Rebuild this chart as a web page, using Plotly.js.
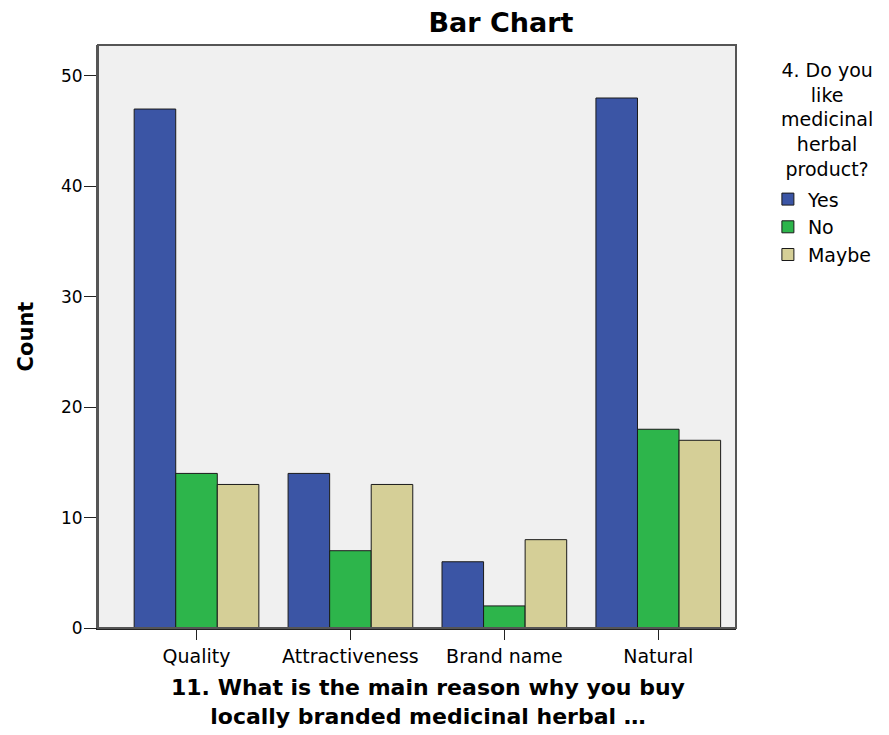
<!DOCTYPE html>
<html><head><meta charset="utf-8">
<script src="https://cdn.plot.ly/plotly-3.0.1.min.js"></script>
<style>body{margin:0;background:#fff}#chart{width:889px;height:735px}</style>
</head><body><div id="chart"></div>
<script>
const categories = ["Quality", "Attractiveness", "Brand name", "Natural"];
const seriesNames = ["Yes", "No", "Maybe"];
const yesValues = [47, 14, 6, 48];
const noValues = [14, 7, 2, 18];
const maybeValues = [13, 13, 8, 17];
const yTicks = [0, 10, 20, 30, 40, 50];
const legendTitle = "4. Do you<br>like<br>medicinal<br>herbal<br>product?";
const xTitle = "11. What is the main reason why you buy<br>locally branded medicinal herbal …";
const colors = ["#3b55a5", "#2db54b", "#d5cf97"];

const font = "DejaVu Sans, sans-serif";
const data = [yesValues, noValues, maybeValues].map((vals, i) => ({
  type: "bar", x: categories, y: vals, name: seriesNames[i],
  marker: {color: colors[i], line: {color: "#1a1a1a", width: 1}}
}));

const toPaperY = px => (628 - px) / 583;
const toPaperX = px => (px - 98) / 640;

const annotations = [
  {xref: "paper", yref: "paper", x: toPaperX(829), y: toPaperY(119), xanchor: "center", yanchor: "middle",
   showarrow: false, align: "center", text: legendTitle, font: {size: 19, family: font, color: "#000"}, borderpad: 0},
  {xref: "paper", yref: "paper", x: toPaperX(429), y: toPaperY(702), xanchor: "center", yanchor: "middle",
   showarrow: false, align: "center", text: "<b>" + xTitle + "</b>", font: {size: 22, family: font, color: "#000"}, borderpad: 0}
];

const layout = {
  width: 889, height: 735,
  margin: {l: 98, r: 151, t: 45, b: 107},
  paper_bgcolor: "#ffffff", plot_bgcolor: "#f0f0f0",
  barmode: "group", bargap: 0.19, bargroupgap: 0,
  font: {family: font, color: "#000"},
  title: {text: "<b>Bar Chart</b>", x: 501 / 889, xanchor: "center", y: 1 - 23 / 735, yanchor: "middle",
    font: {size: 27, family: font}},
  xaxis: {
    range: [-0.64, 3.505], showgrid: false, ticks: "outside", ticklen: 10, tickcolor: "#222", tickwidth: 1,
    tickfont: {size: 19, family: font}, showline: true, linecolor: "#222", linewidth: 2
  },
  yaxis: {
    range: [0, 52.8], tickvals: yTicks, showgrid: false, zeroline: false, ticks: "outside", ticklen: 12,
    tickcolor: "#222", tickwidth: 1, ticklabelstandoff: -2,
    tickfont: {size: 17, family: font}, showline: true, linecolor: "#555", linewidth: 2,
    title: {text: "<b>Count</b>", font: {size: 21, family: font}, standoff: 22}
  },
  showlegend: true,
  legend: {x: 1.05, xanchor: "left", y: 0.768, yanchor: "top", font: {size: 19, family: font},
    itemwidth: 30, tracegroupgap: 0, bgcolor: "rgba(0,0,0,0)"},
  shapes: [{type: "rect", xref: "paper", yref: "paper", x0: 0, x1: 1, y0: 0, y1: 1, line: {color: "#555", width: 2}}],
  annotations: annotations
};
Plotly.newPlot("chart", data, layout, {displayModeBar: false});
</script></body></html>
